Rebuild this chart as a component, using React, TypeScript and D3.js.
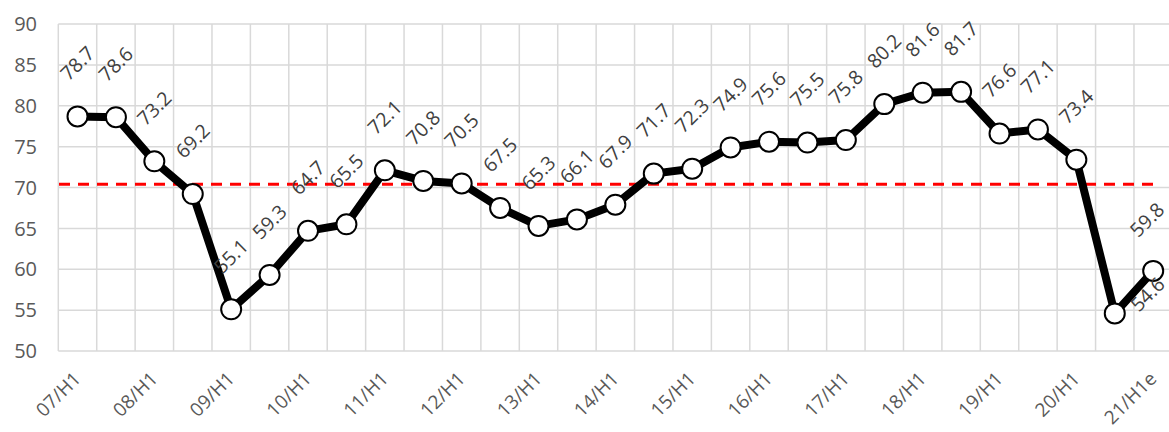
import React from "react";
import * as d3 from "d3";

const categories: string[] = [
  "07/H1", "07/H2", "08/H1", "08/H2", "09/H1", "09/H2", "10/H1", "10/H2",
  "11/H1", "11/H2", "12/H1", "12/H2", "13/H1", "13/H2", "14/H1", "14/H2",
  "15/H1", "15/H2", "16/H1", "16/H2", "17/H1", "17/H2", "18/H1", "18/H2",
  "19/H1", "19/H2", "20/H1", "20/H2", "21/H1e",
];
const values: number[] = [
  78.7, 78.6, 73.2, 69.2, 55.1, 59.3, 64.7, 65.5, 72.1, 70.8, 70.5, 67.5,
  65.3, 66.1, 67.9, 71.7, 72.3, 74.9, 75.6, 75.5, 75.8, 80.2, 81.6, 81.7,
  76.6, 77.1, 73.4, 54.6, 59.8,
];
const shownXLabels: string[] = [
  "07/H1", "08/H1", "09/H1", "10/H1", "11/H1", "12/H1", "13/H1", "14/H1",
  "15/H1", "16/H1", "17/H1", "18/H1", "19/H1", "20/H1", "21/H1e",
];
const yTicks: number[] = [50, 55, 60, 65, 70, 75, 80, 85, 90];
const referenceLevel = 70.4;

const W = 1169;
const H = 432;
const left = 58.3;
const right = 1172.4;
const top = 24;
const bottom = 351;
const FONT = "'Open Sans', 'Noto Sans', sans-serif";

export default function App() {
  const x = d3.scaleBand<string>().domain(categories).range([left, right]).padding(0);
  const y = d3.scaleLinear().domain([50, 90]).range([bottom, top]);
  const cx = (c: string) => (x(c) as number) + x.bandwidth() / 2;

  const line = d3
    .line<number>()
    .x((_, i) => cx(categories[i]))
    .y((v) => y(v));

  const boundaries = categories.map((c) => x(c) as number).concat([right]);

  return (
    <svg
      width={W}
      height={H}
      style={{ position: "absolute", left: 0, top: 0, background: "#fff" }}
    >
      {/* grid */}
      {yTicks.map((t) => (
        <line key={"h" + t} x1={left} x2={right} y1={y(t)} y2={y(t)} stroke="#d9d9d9" strokeWidth={1.5} />
      ))}
      {boundaries.map((b, i) => (
        <line key={"v" + i} x1={b} x2={b} y1={top} y2={bottom} stroke="#d9d9d9" strokeWidth={1.5} />
      ))}
      {/* y labels */}
      {yTicks.map((t) => (
        <text
          key={"yl" + t}
          x={37}
          y={y(t)}
          dy="0.36em"
          textAnchor="end"
          fontFamily={FONT}
          fontSize={20}
          fill="#595959"
        >
          {t}
        </text>
      ))}
      {/* x labels */}
      {shownXLabels.map((c) => {
        const px = cx(c) + 4.5;
        const py = 380;
        return (
          <text
            key={"xl" + c}
            x={px}
            y={py}
            textAnchor="end"
            fontFamily={FONT}
            fontSize={19}
            fill="#595959"
            transform={`rotate(-45 ${px} ${py})`}
          >
            {c}
          </text>
        );
      })}
      {/* reference dashed line */}
      <line
        x1={59}
        x2={1161}
        y1={y(referenceLevel)}
        y2={y(referenceLevel)}
        stroke="#ff0000"
        strokeWidth={3}
        strokeDasharray="11,8"
      />
      {/* series */}
      <path d={line(values) || ""} fill="none" stroke="#000" strokeWidth={8} strokeLinejoin="round" />
      {values.map((v, i) => (
        <circle key={"m" + i} cx={cx(categories[i])} cy={y(v)} r={10} fill="#fff" stroke="#000" strokeWidth={2} />
      ))}
      {/* data labels */}
      {values.map((v, i) => {
        const special = i === 27;
        const lx = cx(categories[i]) + (special ? 33 : 0) - (i === 28 ? 6 : 0);
        const ly = y(v) + (special ? -19 : -53) + (i === 28 ? 2 : 0);
        return (
          <text
            key={"dl" + i}
            x={lx}
            y={ly}
            dy="0.35em"
            textAnchor="middle"
            fontFamily={FONT}
            fontSize={19.5}
            fill="#404040"
            transform={`rotate(-45 ${lx} ${ly})`}
          >
            {v.toFixed(1)}
          </text>
        );
      })}
    </svg>
  );
}
